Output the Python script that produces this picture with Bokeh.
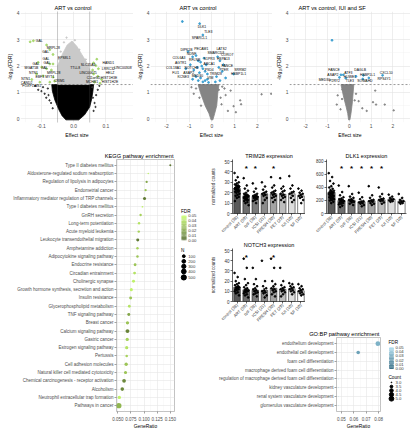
import numpy as np
from bokeh.plotting import figure
from bokeh.layouts import row, column
from bokeh.models import (Range1d, FactorRange, FixedTicker, Label, Span,
                          LinearColorMapper, NumeralTickFormatter, ColumnDataSource)
from bokeh.transform import transform
from bokeh.core.properties import value
from bokeh.embed import file_html
from bokeh.resources import INLINE

# ============================ DATA ============================
# Panel a - ART vs control
a_dense_x = [-0.024, 0.016, 0.034, 0.050, 0.056, 0.060, 0.062, -0.068, -0.066, -0.058, -0.046, -0.036]
a_dense_y = [-0.04, -0.04, 0.15, 0.45, 0.75, 1.05, 1.30, 1.30, 1.05, 0.70, 0.35, 0.12]
a_ns_x = [-0.120, -0.110, -0.100, -0.095, -0.090, -0.085, -0.080, -0.078, -0.075, -0.070, -0.065,
          0.058, 0.060, 0.062, 0.065, 0.068, 0.070, 0.075, 0.080]
a_ns_y = [1.25, 1.10, 1.05, 1.20, 0.95, 0.80, 1.15, 0.90, 0.70, 0.60, 0.40,
          1.20, 0.80, 0.30, 0.60, 0.45, 0.90, 1.10, 1.25]
a_mid_x = [-0.050, 0.050, 0.050, 0.040, 0.025, 0.010, -0.005, -0.020, -0.035, -0.050]
a_mid_y = [1.30, 1.30, 1.85, 2.15, 2.45, 2.75, 2.95, 2.80, 2.45, 2.00]
a_midpt_x = [-0.022, 0.004, 0.018, 0.038, -0.040, -0.045, 0.045, -0.030]
a_midpt_y = [3.08, 2.98, 2.62, 2.25, 2.55, 2.25, 2.00, 2.90]
a_sig_x = [-0.135, -0.125, -0.084, -0.074, -0.064, -0.110, -0.074, -0.064, -0.099, -0.084,
           -0.069, -0.115, -0.095, -0.064, -0.130, -0.105, -0.074, -0.059,
           0.062, 0.069, 0.077, 0.062, 0.075, 0.087, 0.065, 0.082, 0.059, 0.072]
a_sig_y = [2.92, 2.96, 2.80, 2.62, 2.44, 2.14, 2.08, 2.08, 1.96, 1.90,
           1.85, 1.70, 1.63, 1.58, 1.49, 1.39, 1.39, 1.43,
           2.12, 2.02, 1.90, 1.70, 1.61, 1.49, 1.39, 1.35, 1.85, 2.26]
a_lab_text = ["GAL", "MRPL28", "GAL", "GAL", "EPS8L1", "GAL", "GAL", "MGAT5B", "GAL", "TTLL8",
              "SLC35A3", "HAND1", "LRRC32", "LINC00308", "NTN1", "MRPL28", "EBF3", "MYT1",
              "LINC00675", "HELZ", "NTN1", "C11orf45", "HIST1H3E", "CRIM1", "MCHR1",
              "HIST1H2E", "CAND2", "FOXP1-AS1"]
a_lab_x = [-0.107, -0.063, -0.087, -0.086, -0.029, -0.117, -0.083, -0.131, -0.091, 0.005,
           0.045, 0.108, 0.108, 0.153, -0.125, -0.062, -0.105, -0.074,
           0.045, 0.113, -0.149, 0.062, 0.110, -0.044, 0.057,
           0.113, -0.146, -0.130]
a_lab_y = [2.97, 2.68, 2.52, 2.25, 2.30, 2.08, 2.10, 1.94, 1.94, 1.94,
           2.05, 2.12, 1.90, 1.93, 1.73, 1.73, 1.58, 1.58,
           1.73, 1.73, 1.51, 1.55, 1.54, 1.45, 1.39,
           1.39, 1.35, 1.25]

# Panel c - ART vs control (second model)
c_dense_x = [-0.04, 0.04, 0.12, 0.21, 0.26, 0.31, -0.61, -0.51, -0.30, -0.13]
c_dense_y = [-0.04, -0.04, 0.20, 0.50, 1.00, 1.30, 1.30, 1.00, 0.50, 0.20]
c_ns_x = [0.82, 1.24, 1.28, 0.95, 2.18, 2.60, 0.55, 0.60, 0.45, -0.70, -0.80, -0.55, 0.42,
          -0.48, 0.70, 1.05, 0.38, -0.90, 0.30]
c_ns_y = [1.07, 0.70, 0.55, 0.48, 0.93, 0.95, 1.15, 0.90, 1.22, 1.15, 0.95, 0.80, 0.55,
          0.50, 0.30, 0.25, 0.80, 1.20, 1.10]
c_sig_x = [-1.30, -0.54, -0.40, -1.05, -0.85, -0.70, -0.60, -0.50, -0.45, -0.40, -0.35, -0.30,
           -0.25, -0.20, -0.55, -0.65, -0.80, -0.95, -1.15, -0.70, -0.50, -0.30, -0.40, -0.20,
           -0.60, -0.85, -0.15, 0.25, 0.35, 0.30, 0.45, 0.20, 0.35, 0.60, 0.95, 0.15, 0.50]
c_sig_y = [3.69, 3.61, 3.18, 2.55, 2.35, 2.40, 2.20, 2.15, 2.00, 1.90, 2.30, 1.80,
           2.05, 1.70, 1.75, 1.95, 1.85, 2.05, 1.90, 1.60, 1.55, 1.45, 1.40, 1.50,
           1.45, 1.50, 1.38, 2.35, 2.20, 1.95, 1.80, 1.60, 1.45, 1.55, 1.70, 1.40, 2.05]
c_lab_text = ["DLK1", "TLE3", "SPARCL1", "DIPK1B", "PECAM1", "LATS2", "NDNF", "SMARCD3", "CORO7",
              "COL6A3", "RFLNB", "S1PR3", "HSPA13", "AGTR1", "ABCA1", "FANCE", "COL18A1",
              "NOTCH3", "PSD4", "PTER", "SRRM2", "FLI1", "ASAP2", "TRIM28", "HSBP1L1",
              "KCNE3", "MED30", "VIM"]
c_lab_x = [-0.44, -0.16, -0.55, -1.12, -0.47, 0.42, -0.90, 0.17, 0.67,
           -1.45, -0.76, -0.12, 0.50, -1.37, -0.12, 0.67, -1.69,
           -0.90, -0.12, 0.53, 1.24, -1.59, -1.02, 0.17, 1.17,
           -1.26, -0.64, -0.07]
c_lab_y = [3.49, 3.30, 3.07, 2.62, 2.64, 2.66, 2.46, 2.50, 2.42,
           2.29, 2.23, 2.26, 2.25, 2.11, 2.08, 2.02, 1.94,
           1.94, 1.87, 1.85, 1.85, 1.73, 1.75, 1.69, 1.69,
           1.58, 1.61, 1.55]

# Panel f - ART vs control, IUI and SF
f_dense_x = [-0.03, 0.03, 0.08, 0.14, 0.21, -0.38, -0.25, -0.14, -0.07]
f_dense_y = [-0.04, -0.04, 0.20, 0.60, 1.30, 1.30, 0.80, 0.45, 0.20]
f_ns_x = [-0.31, -0.13, -0.53, 0.31, 0.43, 1.19, 1.09, 1.23, 1.63, 2.04, -0.57, -0.40, 0.25,
          -0.33, 0.60, 0.80]
f_ns_y = [1.11, 0.93, 0.89, 0.95, 0.67, 1.07, 0.63, 0.54, 0.54, 0.32, 0.54, 0.36, 0.70,
          0.75, 0.40, 0.30]
f_sig_x = [-0.79, -0.38, -0.27, -0.45, -0.16, 0.65, 0.90, 1.53, 0.62, 0.31]
f_sig_y = [2.98, 1.67, 1.67, 1.57, 1.54, 1.65, 1.55, 1.65, 1.51, 1.61]
f_lab_text = ["FANCE", "ASAP2", "MED30", "P2RY2", "ATF3", "HUWE1", "TLE3", "DAGLB", "HSBP1L1",
              "SOWAHD", "CXCL10", "RPS4Y1"]
f_lab_x = [-0.70, -0.75, -1.14, -0.67, -0.04, 0.03, 0.03, 0.50, 0.84, 0.72, 1.70, 1.60]
f_lab_y = [1.85, 1.67, 1.49, 1.42, 1.73, 1.57, 1.42, 1.85, 1.67, 1.42, 1.75, 1.51]

vol_yticks = [0, 1, 2, 3, 4]
vol_yminor = [0.5, 1.5, 2.5, 3.5]
fdr_threshold = 1.3

# Panel b - KEGG pathway enrichment
kegg_terms = ["Type II diabetes mellitus",
              "Aldosterone-regulated sodium reabsorption",
              "Regulation of lipolysis in adipocytes",
              "Endometrial cancer",
              "Inflammatory mediator regulation of TRP channels",
              "Type I diabetes mellitus",
              "GnRH secretion",
              "Long-term potentiation",
              "Acute myeloid leukemia",
              "Leukocyte transendothelial migration",
              "Amphetamine addiction",
              "Adipocytokine signaling pathway",
              "Endocrine resistance",
              "Circadian entrainment",
              "Cholinergic synapse",
              "Growth hormone synthesis, secretion and action",
              "Insulin resistance",
              "Glycerophospholipid metabolism",
              "TNF signaling pathway",
              "Breast cancer",
              "Calcium signaling pathway",
              "Gastric cancer",
              "Estrogen signaling pathway",
              "Pertussis",
              "Cell adhesion molecules",
              "Natural killer cell mediated cytotoxicity",
              "Chemical carcinogenesis - receptor activation",
              "Alcoholism",
              "Neutrophil extracellular trap formation",
              "Pathways in cancer"]
kegg_ratio = [0.150, 0.108, 0.105, 0.103, 0.101, 0.097, 0.0935, 0.0905, 0.090, 0.088,
              0.0875, 0.0875, 0.083, 0.082, 0.080, 0.0758, 0.0745, 0.072, 0.071, 0.0685,
              0.0685, 0.068, 0.067, 0.067, 0.066, 0.0648, 0.062, 0.0586, 0.053, 0.052]
kegg_fdr = [0.005, 0.045, 0.020, 0.030, 0.005, 0.045, 0.035, 0.040, 0.035, 0.005,
            0.035, 0.030, 0.030, 0.040, 0.045, 0.045, 0.030, 0.040, 0.020, 0.030,
            0.008, 0.035, 0.040, 0.035, 0.030, 0.030, 0.010, 0.010, 0.045, 0.025]
kegg_n = [46, 37, 56, 58, 120, 39, 64, 67, 67, 114, 69, 69, 97, 97, 113, 119, 108, 97, 112, 147,
          240, 149, 138, 76, 150, 131, 212, 186, 150, 531]
kegg_xticks = [0.05, 0.075, 0.1, 0.125, 0.15]
n_legend = [100, 200, 300, 400, 500]

# Panel d - expression bar charts
d_groups = ["control (38)", "ART (59)", "IVF (38)", "ICSI (21)", "FRESH (30)", "FET (29)",
            "IUI (10)", "SF (10)"]
trim28_mean = [24, 17, 16.5, 19, 19, 18.5, 19, 17]
trim28_sem = [1.0, 0.7, 0.8, 1.2, 1.0, 1.1, 2.0, 1.5]
trim28_pts = [[39, 35, 32, 30, 29, 28, 27, 27, 26, 26, 25, 25, 24, 24, 23, 23, 22, 22, 21, 21, 20, 19, 18, 17, 16, 15, 12],
              [34, 27, 24, 22, 20, 19, 18, 18, 17, 17, 16, 16, 15, 15, 14, 14, 13, 13, 12, 11, 10, 8],
              [29, 24, 21, 19, 18, 17, 17, 16, 16, 15, 15, 14, 13, 12, 10],
              [30, 26, 23, 21, 20, 19, 18, 17, 15, 13, 10],
              [35, 27, 25, 22, 21, 20, 19, 18, 17, 16, 15, 13, 11],
              [34, 26, 24, 22, 21, 19, 18, 17, 16, 15, 13, 11],
              [36, 27, 24, 21, 20, 19, 17, 15, 13, 11],
              [24, 22, 20, 19, 18, 17, 16, 15, 13, 10]]
trim28_sig = [False, True, True, False, True, False, False, False]

dlk1_mean = [325, 200, 205, 180, 195, 210, 220, 190]
dlk1_sem = [18, 10, 12, 14, 15, 16, 12, 15]
dlk1_pts = [[620, 560, 500, 460, 420, 400, 380, 360, 350, 340, 330, 320, 310, 300, 290, 280, 270, 260, 250, 240, 230, 220, 210, 200, 180, 160],
            [430, 330, 280, 250, 230, 220, 210, 200, 190, 180, 170, 160, 150, 140, 120, 100],
            [420, 300, 260, 240, 220, 210, 200, 190, 180, 170, 150, 130],
            [320, 250, 220, 190, 180, 170, 160, 150, 130, 110],
            [420, 280, 240, 210, 200, 190, 180, 160, 150, 130],
            [400, 300, 260, 230, 220, 210, 200, 190, 170, 150],
            [290, 260, 240, 220, 210, 200, 190, 180],
            [300, 240, 210, 190, 180, 170, 160, 150]]
dlk1_sig = [False, True, True, True, True, True, False, False]

notch3_mean = [14, 11.5, 11, 11, 13, 12, 12.5, 10.5]
notch3_sem = [0.8, 0.8, 1.0, 1.8, 1.5, 1.2, 1.0, 1.1]
notch3_pts = [[28, 24, 20, 18, 17, 16, 15, 14, 14, 13, 12, 12, 11, 10, 9, 8, 6],
              [42, 33, 22, 18, 16, 14, 13, 12, 11, 11, 10, 10, 9, 8, 7, 6, 4],
              [33, 22, 17, 15, 13, 12, 11, 10, 9, 8, 7, 5],
              [40, 20, 15, 13, 11, 10, 9, 8, 6, 4],
              [42, 33, 20, 17, 15, 13, 12, 11, 10, 9, 7, 5],
              [33, 20, 16, 14, 13, 12, 11, 10, 9, 7, 5],
              [18, 17, 15, 14, 13, 12, 11, 10, 9, 7],
              [17, 15, 13, 12, 11, 10, 9, 8, 7, 6]]
notch3_sig = [False, True, False, False, True, False, False, False]

# Panel e - GO:BP pathway enrichment
go_terms = ["endothelium development",
            "endothelial cell development",
            "foam cell differentiation",
            "macrophage derived foam cell differentiation",
            "regulation of macrophage derived foam cell differentiation",
            "kidney vasculature development",
            "renal system vasculature development",
            "glomerulus vasculature development"]
go_ratio = [0.0794, 0.0635, 0.0476, 0.0476, 0.0476, 0.0476, 0.0476, 0.0476]
go_fdr = [0.033, 0.028, 0.045, 0.045, 0.045, 0.045, 0.045, 0.045]
go_count = [5, 4, 3, 3, 3, 3, 3, 3]
go_xticks = [0.05, 0.06, 0.07, 0.08]
count_legend = [3.0, 3.5, 4.0, 4.5, 5.0]

# ============================ STYLE ============================
S = 0.98
FONT = "Liberation Sans"


def s(v):
    return int(round(v * S))


def fs(v):
    return "%.2fpx" % (v * S)


def ramp(c0, c1, n=64):
    a = np.array([int(c0[i:i + 2], 16) for i in (1, 3, 5)], float)
    b = np.array([int(c1[i:i + 2], 16) for i in (1, 3, 5)], float)
    return ["#%02x%02x%02x" % tuple(int(round(v)) for v in a + (b - a) * t)
            for t in np.linspace(0, 1, n)]


map_b = LinearColorMapper(palette=ramp("#556B2F", "#CAFF70"), low=0, high=0.05)
map_e = LinearColorMapper(palette=ramp("#1D5A75", "#ADDCEE"), low=0, high=0.05)


def size_n(n):
    return 1.5 + 3.8 * np.sqrt(max(n - 37, 0) / 494.0)


def size_c(c):
    return 0.8 + 4.0 * np.sqrt((c - 3) / 2.0)


def letter(p, H, fl, fb, x, y, txt):
    p.add_layout(Label(x=s(x) - s(fl), y=(s(H) - s(fb)) - s(y), x_units="screen", y_units="screen",
                       text=txt, text_font=FONT, text_font_size=fs(10), text_font_style="bold",
                       text_baseline="alphabetic", text_align="left", text_color="black"))


def style_title(p, align, off, size, standoff):
    t = p.title
    t.align = align
    t.offset = off
    t.standoff = standoff
    t.text_font = FONT
    t.text_font_size = fs(size)
    t.text_font_style = "normal"
    t.text_color = "black"


def volcano(W, fl, fr, xr, xticks, xminor, xfmt, title, toff):
    H = 143
    p = figure(width=s(W), height=s(H), title=title,
               x_range=Range1d(xr[0], xr[1]), y_range=Range1d(-0.14, 4.07),
               output_backend="svg", toolbar_location=None,
               min_border_left=s(fl), min_border_right=s(fr),
               min_border_top=s(11), min_border_bottom=s(14))
    p.outline_line_color = None
    style_title(p, "left", s(toff), 5.8, 1)
    p.xaxis.ticker = FixedTicker(ticks=xticks, minor_ticks=xminor)
    p.yaxis.ticker = FixedTicker(ticks=vol_yticks, minor_ticks=vol_yminor)
    p.xaxis.formatter = NumeralTickFormatter(format=xfmt)
    for ax in p.axis:
        ax.axis_line_color = None
        ax.major_tick_line_color = None
        ax.minor_tick_line_color = None
        ax.major_tick_out = 0
        ax.major_tick_in = 0
        ax.minor_tick_out = 0
        ax.minor_tick_in = 0
        ax.major_label_standoff = 1
        ax.axis_label_standoff = 1
        ax.major_label_text_font = FONT
        ax.major_label_text_font_size = fs(5.0)
        ax.major_label_text_color = "#4d4d4d"
        ax.axis_label_text_font = FONT
        ax.axis_label_text_font_size = fs(5.2)
        ax.axis_label_text_font_style = "normal"
        ax.axis_label_text_color = "black"
    p.xaxis.axis_label = "Effect size"
    p.yaxis.axis_label = "-log₁₀(FDR)"
    for g in (p.xgrid[0], p.ygrid[0]):
        g.grid_line_color = "#e3e3e3"
        g.grid_line_width = 0.6
        g.minor_grid_line_color = "#f0f0f0"
        g.minor_grid_line_width = 0.4
    return p


def gene_labels(p, xs, ys, txt):
    p.text(x=xs, y=ys, text=txt, text_font=value(FONT), text_font_size=value(fs(3.5)),
           text_align="center", text_baseline="middle", text_color="black")


# ---------------- panel a ----------------
pa = volcano(136, 20, 0, (-0.165, 0.186), [-0.1, 0.0, 0.1], [-0.15, -0.05, 0.05, 0.15], "0.0",
             "ART vs control", 35)
pa.patch(a_dense_x, a_dense_y, fill_color="black", line_color="black", line_width=0.8)
pa.scatter(a_ns_x, a_ns_y, size=1.3, color="#333333")
pa.patch(a_mid_x, a_mid_y, fill_color="#c9c9c9", line_color="#c9c9c9", line_width=0.8)
pa.scatter(a_midpt_x, a_midpt_y, size=1.3, color="#c9c9c9")
pa.scatter(a_sig_x, a_sig_y, size=1.8, color="#a8d86e")
pa.add_layout(Span(location=fdr_threshold, dimension="width", line_color="#555555", line_width=0.6, line_dash="2 2"))
pa.add_layout(Span(location=-0.05, dimension="height", line_color="#555555", line_width=0.6, line_dash="1 1"))
pa.add_layout(Span(location=0.05, dimension="height", line_color="#555555", line_width=0.6, line_dash="1 1"))
gene_labels(pa, a_lab_x, a_lab_y, a_lab_text)
letter(pa, 143, 20, 14, 1, 9, "a")

# ---------------- panel c ----------------
pc = volcano(142, 17, 0, (-2.70, 2.66), [-2, -1, 0, 1, 2], [-2.5, -1.5, -0.5, 0.5, 1.5, 2.5], "0",
             "ART vs control", 30)
pc.patch(c_dense_x, c_dense_y, fill_color="#858585", line_color="#858585", line_width=0.8)
pc.scatter(c_ns_x, c_ns_y, size=1.4, color="#858585")
pc.scatter(c_sig_x, c_sig_y, size=1.8, color="#3c9fd1")
pc.add_layout(Span(location=fdr_threshold, dimension="width", line_color="#555555", line_width=0.6, line_dash="2 2"))
gene_labels(pc, c_lab_x, c_lab_y, c_lab_text)
letter(pc, 143, 17, 14, 0.5, 9, "c")

# ---------------- panel f ----------------
pf = volcano(141, 15, 0, (-2.74, 2.81), [-2, -1, 0, 1, 2], [-2.5, -1.5, -0.5, 0.5, 1.5, 2.5], "0",
             "ART vs control, IUI and SF", 8.7)
pf.patch(f_dense_x, f_dense_y, fill_color="#858585", line_color="#858585", line_width=0.8)
pf.scatter(f_ns_x, f_ns_y, size=1.4, color="#858585")
pf.scatter(f_sig_x, f_sig_y, size=1.8, color="#3c9fd1")
pf.add_layout(Span(location=fdr_threshold, dimension="width", line_color="#555555", line_width=0.6, line_dash="2 2"))
gene_labels(pf, f_lab_x, f_lab_y, f_lab_text)
letter(pf, 143, 15, 14, 0.5, 9, "f")


# ---------------- dot plots (b, e) ----------------
def dotplot(W, H, fl, fr, ft, fb, title, terms, xr, xticks, xminor, xfmt):
    p = figure(width=s(W), height=s(H), title=title,
               x_range=Range1d(xr[0], xr[1]),
               y_range=FactorRange(factors=terms[::-1], range_padding=0.2, range_padding_units="absolute"),
               output_backend="svg", toolbar_location=None,
               min_border_left=s(fl), min_border_right=s(fr),
               min_border_top=s(ft), min_border_bottom=s(fb))
    p.outline_line_color = "#9a9a9a"
    p.outline_line_width = 0.6
    style_title(p, "right", s(1), 5.8, 2)
    p.xaxis.ticker = FixedTicker(ticks=xticks, minor_ticks=xminor)
    p.xaxis.formatter = NumeralTickFormatter(format=xfmt)
    for ax in p.axis:
        ax.axis_line_color = None
        ax.major_tick_line_color = "#444444"
        ax.major_tick_line_width = 0.5
        ax.minor_tick_line_color = None
        ax.major_tick_out = 2
        ax.major_tick_in = 0
        ax.major_label_standoff = 1
        ax.axis_label_standoff = 0
        ax.major_label_text_font = FONT
        ax.major_label_text_font_size = fs(4.6)
        ax.major_label_text_color = "#4d4d4d"
        ax.axis_label_text_font = FONT
        ax.axis_label_text_font_size = fs(5.0)
        ax.axis_label_text_font_style = "normal"
        ax.axis_label_text_color = "black"
    p.xaxis.axis_label = "GeneRatio"
    for g in (p.xgrid[0], p.ygrid[0]):
        g.grid_line_color = "#e6e6e6"
        g.grid_line_width = 0.6
    p.xgrid[0].minor_grid_line_color = "#f2f2f2"
    p.xgrid[0].minor_grid_line_width = 0.4
    return p


pb = dotplot(183, 297, 118, 5, 19, 13, "KEGG pathway enrichment", kegg_terms,
             (0.0476, 0.158), kegg_xticks, [0.0625, 0.0875, 0.1125, 0.1375], "0.000")
bsrc = ColumnDataSource(dict(term=kegg_terms, ratio=kegg_ratio, fdr=kegg_fdr,
                             sz=[size_n(n) for n in kegg_n]))
pb.scatter("ratio", "term", size="sz", fill_color=transform("fdr", map_b), line_color=None, source=bsrc)
letter(pb, 297, 118, 13, 1, 18.3, "b")

pe = dotplot(188, 106, 138, 5, 6, 15, "GO:BP pathway enrichment", go_terms,
             (0.046, 0.0815), go_xticks, [0.055, 0.065, 0.075], "0.00")
esrc = ColumnDataSource(dict(term=go_terms, ratio=go_ratio, fdr=go_fdr,
                             sz=[size_c(c) for c in go_count]))
pe.scatter("ratio", "term", size="sz", fill_color=transform("fdr", map_e), line_color=None, source=esrc)
letter(pe, 106, 138, 15, 2.7, 9.0, "e")


def legend_fig(W, H, mapper, fdr_y, cb_x, cb_top, cb_bot, lab_x, s_title, s_title_y,
               s_txt, s_ys, s_x, s_sizes):
    p = figure(width=s(W), height=s(H), x_range=Range1d(0, W), y_range=Range1d(H, 0),
               x_axis_type=None, y_axis_type=None, output_backend="svg", toolbar_location=None,
               min_border=0)
    p.outline_line_color = None
    tf = value(FONT)
    p.text(x=[cb_x - 0.6], y=[fdr_y], text=["FDR"], text_font=tf, text_font_size=value(fs(4.8)),
           text_align="left", text_baseline="middle", text_color="black")
    n = 40
    lv = np.linspace(0, 0.05, n + 1)
    mids = (lv[:-1] + lv[1:]) / 2
    span = cb_bot - cb_top
    src = ColumnDataSource(dict(x=[cb_x + 2.5] * n,
                                y=[float(cb_bot - m / 0.05 * span) for m in mids],
                                f=[float(m) for m in mids]))
    p.rect(x="x", y="y", width=5, height=span / n * 1.1, fill_color=transform("f", mapper),
           line_color=None, source=src)
    ticks = [0.05, 0.04, 0.03, 0.02, 0.01, 0.0]
    ty = [cb_bot - t / 0.05 * span for t in ticks]
    p.segment(x0=[cb_x] * 6, y0=ty, x1=[cb_x + 1] * 6, y1=ty, line_color="white", line_width=0.5)
    p.segment(x0=[cb_x + 4] * 6, y0=ty, x1=[cb_x + 5] * 6, y1=ty, line_color="white", line_width=0.5)
    p.text(x=[lab_x] * 6, y=ty, text=["%.2f" % t for t in ticks], text_font=tf,
           text_font_size=value(fs(4.3)), text_align="left", text_baseline="middle",
           text_color="#333333")
    p.text(x=[cb_x - 0.6], y=[s_title_y], text=[s_title], text_font=tf,
           text_font_size=value(fs(4.8)), text_align="left", text_baseline="middle",
           text_color="black")
    p.scatter(x=[s_x] * len(s_ys), y=s_ys, size=s_sizes, color="black")
    p.text(x=[lab_x] * len(s_ys), y=s_ys, text=s_txt, text_font=tf,
           text_font_size=value(fs(4.3)), text_align="left", text_baseline="middle",
           text_color="#333333")
    return p


pb_leg = legend_fig(22, 297, map_b, 60.7, 2.0, 66, 95, 8.7, "N", 107.3,
                    [str(v) for v in n_legend], [114, 120, 126, 132, 139], 4.3,
                    [size_n(v) for v in n_legend])
pe_leg = legend_fig(26, 106, map_e, 7.7, 3.7, 14, 45, 10.3, "Count", 57.7,
                    ["%.1f" % v for v in count_legend], [64.3, 70.3, 76, 81.7, 87.7], 6.2,
                    [size_c(v) for v in count_legend])

# ---------------- bar charts (d) ----------------
d_colors = ["#595959", "#6e6e6e", "#7a7a7a", "#8a8a8a", "#a3a3a3", "#bdbdbd", "#dedede", "#ffffff"]


def barchart(W, H, fl, fr, ft, fb, means, sems, pts, sig, ymax, yticks, star_y, title, ylabel):
    p = figure(width=s(W), height=s(H), title=title, x_range=FactorRange(factors=d_groups),
               y_range=Range1d(0, ymax), output_backend="svg", toolbar_location=None,
               min_border_left=s(fl), min_border_right=s(fr),
               min_border_top=s(ft), min_border_bottom=s(fb))
    p.outline_line_color = None
    p.xgrid.visible = False
    p.ygrid.visible = False
    style_title(p, "center", 0, 5.6, 1)
    xc = [i + 0.5 for i in range(len(d_groups))]
    p.vbar(x=d_groups, top=means, width=0.72, fill_color=d_colors, line_color="black",
           line_width=0.5)
    px, py = [], []
    for i, vals in enumerate(pts):
        for k, v in enumerate(vals):
            px.append(i + 0.5 + (((k * 0.618034) % 1.0) - 0.5) * 0.55)
            py.append(v)
    p.scatter(px, py, size=1.7, color="black")
    lo = [m - e for m, e in zip(means, sems)]
    hi = [m + e for m, e in zip(means, sems)]
    p.segment(x0=xc, y0=lo, x1=xc, y1=hi, line_color="black", line_width=0.6)
    p.segment(x0=[x - 0.14 for x in xc], y0=hi, x1=[x + 0.14 for x in xc], y1=hi,
              line_color="black", line_width=0.6)
    p.segment(x0=[x - 0.14 for x in xc], y0=lo, x1=[x + 0.14 for x in xc], y1=lo,
              line_color="black", line_width=0.6)
    sx = [xc[i] for i, g in enumerate(sig) if g]
    p.text(x=sx, y=[star_y] * len(sx), text=["*"] * len(sx), text_font=value(FONT),
           text_font_size=value(fs(8)), text_font_style=value("bold"),
           text_align="center", text_baseline="middle", text_color="black")
    ya = p.yaxis[0]
    ya.ticker = FixedTicker(ticks=yticks)
    xa = p.xaxis[0]
    for ax in (xa, ya):
        ax.axis_line_color = "black"
        ax.axis_line_width = 0.6
        ax.major_tick_line_color = "black"
        ax.major_tick_line_width = 0.6
        ax.minor_tick_line_color = None
        ax.major_tick_out = 2
        ax.major_tick_in = 0
        ax.major_label_standoff = 1
        ax.major_label_text_font = FONT
        ax.major_label_text_color = "#333333"
    ya.major_label_text_font_size = fs(4.6)
    xa.major_label_text_font_size = fs(4.3)
    xa.major_label_orientation = float(np.pi / 4)
    if ylabel:
        ya.axis_label = ylabel
        ya.axis_label_text_font = FONT
        ya.axis_label_text_font_size = fs(4.6)
        ya.axis_label_text_font_style = "normal"
        ya.axis_label_text_color = "#333333"
        ya.axis_label_standoff = 5
    return p


p_trim = barchart(106, 101, 32, 0, 19, 27, trim28_mean, trim28_sem, trim28_pts, trim28_sig,
                  52, [0, 10, 20, 30, 40, 50], 43, "TRIM28 expression", "normalized counts")
letter(p_trim, 101, 32, 27, 3.3, 18.7, "d")
p_dlk = barchart(108, 101, 21, 5, 19, 27, dlk1_mean, dlk1_sem, dlk1_pts, dlk1_sig,
                 830, [0, 200, 400, 600, 800], 690, "DLK1 expression", None)
p_notch = barchart(106, 90, 32, 0, 9, 27, notch3_mean, notch3_sem, notch3_pts, notch3_sig,
                   52, [0, 10, 20, 30, 40, 50], 43, "NOTCH3 expression", "normalized counts")

# ---------------- layout ----------------
top = row(pa, pc, pf)
right = column(row(p_trim, p_dlk), p_notch, row(pe, pe_leg))
bottom = row(pb, pb_leg, right)
layout = column(top, bottom)

open("out.html", "w").write(file_html(layout, INLINE))
